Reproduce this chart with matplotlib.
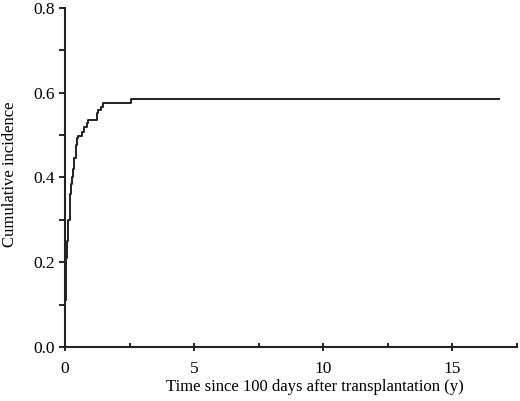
import matplotlib
matplotlib.use("Agg")
import matplotlib.pyplot as plt
from matplotlib.ticker import MultipleLocator

plt.rcParams['font.family'] = ['Liberation Serif', 'DejaVu Serif']

times = [0.0, 0.02, 0.04, 0.06, 0.10, 0.18, 0.23, 0.27, 0.32, 0.36, 0.41, 0.45, 0.49,
         0.67, 0.75, 0.84, 0.88, 1.23, 1.29, 1.39, 1.48, 2.54, 16.8]
incidence = [0.11, 0.16, 0.21, 0.25, 0.30, 0.36, 0.385, 0.40, 0.421, 0.445, 0.477, 0.492, 0.499,
             0.508, 0.520, 0.528, 0.536, 0.552, 0.559, 0.566, 0.575, 0.586, 0.586]

fig = plt.figure(figsize=(5.2, 4.01), dpi=100)
ax = fig.add_axes([0.125, 0.135, 0.869, 0.845])
ax.step(times, incidence, where='post', color='#222222', lw=1.4)

ax.set_xlim(0, 17.5)
ax.set_ylim(0, 0.8)
ax.xaxis.set_major_locator(MultipleLocator(5))
ax.xaxis.set_minor_locator(MultipleLocator(2.5))
ax.yaxis.set_major_locator(MultipleLocator(0.2))
ax.yaxis.set_minor_locator(MultipleLocator(0.1))
ax.yaxis.set_major_formatter(matplotlib.ticker.FormatStrFormatter('%.1f'))
for s in ['top', 'right']:
    ax.spines[s].set_visible(False)
for s in ['left', 'bottom']:
    ax.spines[s].set_linewidth(1.5)
    ax.spines[s].set_color('#222222')
ax.tick_params(axis='x', which='major', direction='inout', length=6, width=1.2, labelsize=12.5, pad=7)
ax.tick_params(axis='x', which='minor', direction='in', length=3, width=1.2)
ax.tick_params(axis='y', which='both', direction='out', length=4, width=1.2, labelsize=12.5, pad=3)
ax.set_xlabel('Time since 100 days after transplantation (y)', fontsize=12)
ax.xaxis.set_label_coords(0.553, -0.095)
ax.set_ylabel('Cumulative incidence', fontsize=12)
ax.yaxis.set_label_coords(-0.105, 0.51)

fig.savefig('out.png', dpi=100)
